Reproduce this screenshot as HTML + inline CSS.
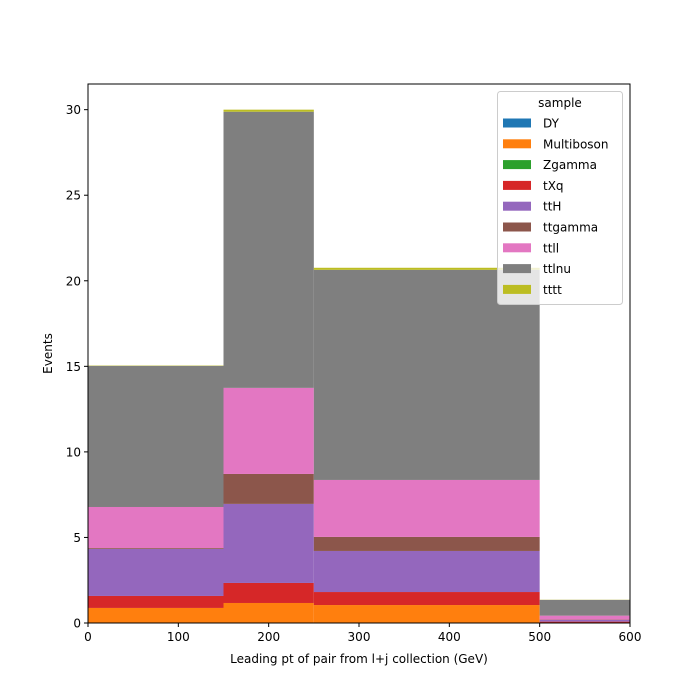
<!DOCTYPE html>
<html><head><meta charset="utf-8"><style>body{margin:0;background:#fff}svg{display:block;font-family:"DejaVu Sans","Liberation Sans",sans-serif}</style></head>
<body>
<svg id="chart" width="700" height="700"></svg>
<script>
const binEdges = [0, 150, 250, 500, 600];
const seriesNames = ["DY","Multiboson","Zgamma","tXq","ttH","ttgamma","ttll","ttlnu","tttt"];
const seriesColors = ["#1f77b4","#ff7f0e","#2ca02c","#d62728","#9467bd","#8c564b","#e377c2","#7f7f7f","#bcbd22"];
const DY = [0,0,0,0];
const Multiboson = [0.88,1.17,1.05,0.03];
const Zgamma = [0,0,0,0];
const tXq = [0.70,1.17,0.76,0.05];
const ttH = [2.75,4.62,2.40,0.10];
const ttgamma = [0.05,1.75,0.82,0.02];
const ttll = [2.40,5.03,3.33,0.23];
const ttlnu = [8.25,16.14,12.28,0.92];
const tttt = [0.02,0.12,0.12,0.01];
const xTicks = [0,100,200,300,400,500,600];
const yTicks = [0,5,10,15,20,25,30];

const seriesValues = [DY,Multiboson,Zgamma,tXq,ttH,ttgamma,ttll,ttlnu,tttt];
const L=88,R=630,T=84,B=623;
const xMin=0,xMax=600,yMin=0,yMax=31.5;
const xs=v=>L+(v-xMin)/(xMax-xMin)*(R-L);
const ys=v=>B-(v-yMin)/(yMax-yMin)*(B-T);
const NS="http://www.w3.org/2000/svg";
const svg=document.getElementById('chart');
function mk(tag,attrs,parent){const e=document.createElementNS(NS,tag);for(const k in attrs)e.setAttribute(k,attrs[k]);(parent||svg).appendChild(e);return e;}

const bars=mk('g',{});


const cum=[0,0,0,0];
seriesValues.forEach((vals,si)=>{
  vals.forEach((v,bi)=>{
    if(v<=0)return;
    const y0=cum[bi],y1=cum[bi]+v;cum[bi]=y1;
    const r=mk('rect',{x:xs(binEdges[bi]),y:ys(y1),width:xs(binEdges[bi+1])-xs(binEdges[bi]),height:ys(y0)-ys(y1),fill:seriesColors[si]},bars);
    
    
  });
});

const frame=mk('rect',{x:L,y:T,width:R-L,height:B-T,fill:'none',stroke:'#000','stroke-width':1});



xTicks.forEach(t=>{
  const x=xs(t);
  const l=mk('line',{x1:x,x2:x,y1:B,y2:B+4,stroke:'#000'});
  
  
  const tx=mk('text',{x:x,y:B+18,'font-size':12,'text-anchor':'middle',fill:'#000'});
  tx.textContent=t;
  
  
});
yTicks.forEach(t=>{
  const y=ys(t);
  const l=mk('line',{x1:L-4,x2:L,y1:y,y2:y,stroke:'#000'});
  
  
  const tx=mk('text',{x:L-7,y:y+4.5,'font-size':12,'text-anchor':'end',fill:'#000'});
  tx.textContent=t;
  
  
});
const xt=mk('text',{x:(L+R)/2,y:663,'font-size':12,'text-anchor':'middle'});
xt.textContent='Leading pt of pair from l+j collection (GeV)';


const yt=mk('text',{x:0,y:0,'font-size':12,'text-anchor':'middle',transform:'translate(52,'+((T+B)/2)+') rotate(-90)'});
yt.textContent='Events';



const lg=mk('g',{});


mk('rect',{x:497.5,y:91.5,width:125,height:213,rx:3,fill:'#fff','fill-opacity':0.8,stroke:'#ccc'},lg);
const lt=mk('text',{x:560,y:107,'font-size':12,'text-anchor':'middle'},lg);
lt.textContent='sample';


seriesNames.forEach((n,i)=>{
  const cy=123+i*20.8;
  const g=mk('g',{},lg);
  
  
  mk('rect',{x:503,y:cy-4.5,width:28,height:9,fill:seriesColors[i]},g);
  const t=mk('text',{x:543,y:cy+4.5,'font-size':12},g);
  t.textContent=n;
});
</script>
</body></html>
